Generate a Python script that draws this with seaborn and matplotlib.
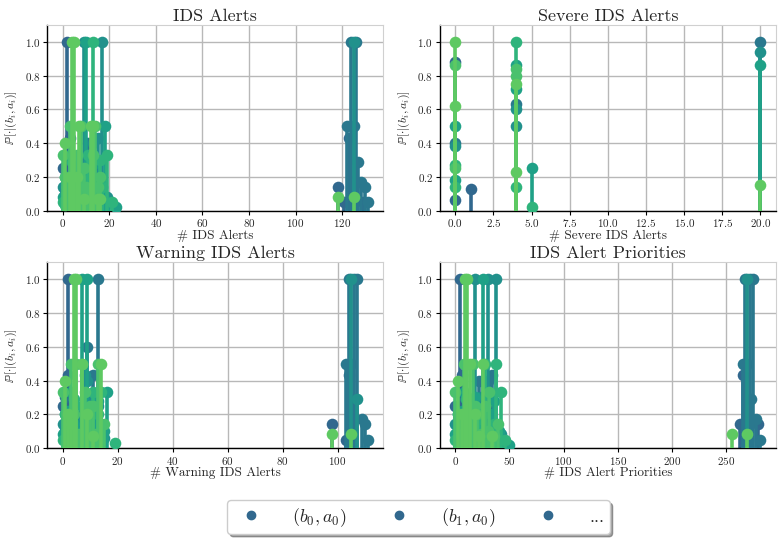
import seaborn as sns
import matplotlib.pyplot as plt
from matplotlib.lines import Line2D
import pandas as pd

# colours of the (b_i, a_i) series, dark -> light
pal = ['#31688e', '#2a788e', '#21918c', '#1fa187', '#2fb47c', '#4ac16d', '#5ec962']

# IDS Alerts
ids_x = [
    [0, 2, 3, 5, 7, 10, 12, 118, 121, 123, 129],
    [1, 4, 8, 11, 14, 122, 124, 125, 126, 127, 128, 130, 131],
    [0, 3, 6, 9, 11, 13, 15, 17, 19, 125, 2, 5, 8, 10, 14, 16],
    [1, 3, 5, 7, 10, 12, 14, 16, 18, 20, 23, 0, 2, 4, 6, 9, 11, 13],
    [0, 2, 4, 6, 8, 11, 13, 15, 17, 19, 21, 1, 5, 9, 12, 16],
    [0, 1, 3, 5, 6, 8, 9, 12, 14, 16, 2, 4, 7, 10, 11, 13, 15],
    [1, 3, 4, 5, 6, 7, 9, 12, 13, 15, 16, 118, 125],
]
ids_p = [
    [0.25, 1.0, 0.43, 0.05, 0.1, 0.12, 0.05, 0.14, 0.05, 0.43, 0.05],
    [0.1, 0.3, 0.2, 0.4, 0.12, 0.5, 1.0, 0.5, 1.0, 0.29, 0.17, 0.14, 0.05],
    [0.14, 0.05, 0.18, 1.0, 0.3, 0.4, 0.43, 1.0, 0.08, 1.0, 0.2, 0.08, 0.3, 0.15, 0.25, 0.12],
    [0.2, 0.33, 0.1, 0.15, 1.0, 0.2, 0.28, 0.1, 0.5, 0.05, 0.02, 0.08, 0.2, 0.14, 0.25, 0.05, 0.1, 0.17],
    [0.05, 0.14, 0.29, 0.05, 0.17, 0.33, 1.0, 0.07, 0.14, 0.33, 0.05, 0.03, 0.22, 0.1, 0.2, 0.3],
    [0.33, 0.2, 0.5, 0.1, 0.33, 0.5, 0.25, 0.07, 0.5, 0.2, 0.14, 0.08, 0.2, 0.14, 0.08, 0.33, 0.14],
    [0.4, 0.2, 1.0, 1.0, 0.2, 0.5, 0.07, 0.5, 0.5, 0.07, 0.07, 0.08, 0.08],
]

# Severe IDS Alerts
sev_x = [
    [0, 0, 1],
    [0, 4, 20],
    [0, 4, 4, 20],
    [0, 0, 4, 4, 5, 20],
    [0, 0, 4, 4, 5],
    [0, 0, 4, 4],
    [0, 0, 4, 4, 20],
]
sev_p = [
    [0.88, 0.06, 0.125],
    [0.4, 0.63, 1.0],
    [0.38, 0.6, 0.5, 0.94],
    [0.5, 0.18, 0.86, 0.72, 0.25, 0.86],
    [0.14, 0.27, 1.0, 0.14, 0.02],
    [0.86, 0.25, 0.8, 0.84],
    [1.0, 0.62, 0.75, 0.23, 0.15],
]

# Warning IDS Alerts
warn_x = [
    [0, 1, 2, 2, 4, 6, 10, 98, 103, 104, 106],
    [1, 3, 4, 7, 9, 11, 13, 103, 104, 105, 106, 107, 109, 110, 111],
    [0, 2, 5, 8, 9, 10, 12, 13, 14, 105, 107, 3, 6, 11, 15],
    [1, 3, 5, 7, 9, 11, 13, 15, 16, 0, 2, 4, 8, 10, 12],
    [0, 2, 4, 6, 8, 11, 12, 14, 19, 1, 3, 7, 9, 13],
    [0, 3, 5, 7, 8, 10, 13, 15, 2, 4, 6, 9, 11, 12],
    [1, 2, 3, 4, 5, 7, 9, 11, 14, 98, 105],
]
warn_p = [
    [0.25, 0.1, 1.0, 0.43, 0.05, 0.12, 0.05, 0.14, 0.05, 0.43, 0.29],
    [0.3, 0.2, 0.14, 0.2, 0.6, 0.43, 1.0, 0.5, 1.0, 0.5, 1.0, 1.0, 0.17, 0.14, 0.05],
    [0.14, 0.05, 0.18, 0.43, 0.4, 0.3, 0.1, 0.25, 0.14, 1.0, 0.29, 0.2, 0.08, 0.14, 0.06],
    [0.2, 0.33, 0.1, 1.0, 1.0, 0.2, 0.28, 0.1, 0.33, 0.08, 0.22, 0.14, 0.25, 0.05, 0.17],
    [0.05, 0.14, 0.29, 0.05, 0.17, 0.33, 0.07, 0.33, 0.03, 0.2, 0.08, 0.25, 0.12, 0.2],
    [0.33, 0.5, 0.5, 0.5, 0.33, 0.25, 0.5, 0.14, 0.14, 0.2, 0.08, 0.2, 0.25, 0.08],
    [0.4, 0.2, 0.14, 1.0, 1.0, 0.5, 0.2, 0.07, 0.5, 0.08, 0.08],
]

# IDS Alert Priorities
prio_x = [
    [0, 4, 6, 10, 14, 20, 24, 263, 266, 268, 280],
    [2, 8, 12, 22, 28, 30, 34, 266, 268, 270, 272, 273, 275, 278, 282],
    [0, 6, 11, 18, 24, 30, 35, 38, 42, 270, 4, 14, 20, 28, 32],
    [2, 8, 14, 20, 26, 32, 36, 40, 44, 50, 0, 6, 12, 18, 24, 30],
    [0, 4, 10, 16, 22, 27, 33, 38, 42, 46, 2, 8, 14, 20, 26, 36],
    [0, 3, 8, 12, 16, 20, 27, 31, 36, 39, 5, 10, 14, 18, 24, 30],
    [2, 6, 9, 11, 14, 18, 22, 26, 34, 256, 270],
]
prio_p = [
    [0.25, 1.0, 0.43, 0.05, 0.1, 0.12, 0.05, 0.14, 0.43, 0.05, 0.14],
    [0.1, 0.3, 0.2, 0.4, 0.12, 0.4, 0.43, 0.5, 1.0, 0.5, 1.0, 0.29, 1.0, 0.17, 0.05],
    [0.14, 0.05, 0.18, 1.0, 0.3, 1.0, 0.14, 1.0, 0.08, 1.0, 0.2, 0.08, 0.25, 0.14, 0.06],
    [0.2, 0.33, 0.1, 0.15, 1.0, 0.2, 0.28, 0.1, 0.05, 0.02, 0.08, 0.22, 0.05, 0.3, 0.17, 0.12],
    [0.05, 0.14, 0.29, 0.05, 0.17, 0.5, 0.07, 0.5, 0.33, 0.05, 0.2, 0.12, 0.25, 0.08, 0.2, 0.14],
    [0.33, 0.2, 0.5, 0.1, 0.5, 0.2, 0.25, 0.33, 0.07, 0.14, 0.08, 0.14, 0.2, 0.25, 0.08, 0.1],
    [0.4, 0.2, 1.0, 1.0, 0.5, 0.2, 0.07, 0.5, 0.07, 0.08, 0.08],
]

panels = [
    ('IDS Alerts', '# IDS Alerts', ids_x, ids_p),
    ('Severe IDS Alerts', '# Severe IDS Alerts', sev_x, sev_p),
    ('Warning IDS Alerts', '# Warning IDS Alerts', warn_x, warn_p),
    ('IDS Alert Priorities', '# IDS Alert Priorities', prio_x, prio_p),
]

sns.set_style('whitegrid')
plt.rcParams['font.family'] = 'serif'
plt.rcParams['font.serif'] = ['cmr10', 'DejaVu Serif']
plt.rcParams['mathtext.fontset'] = 'cm'
plt.rcParams['axes.formatter.use_mathtext'] = True
plt.rcParams['axes.unicode_minus'] = False

fig, axes = plt.subplots(2, 2, figsize=(7.78, 5.43), dpi=100)
fig.subplots_adjust(left=0.061, right=0.997, top=0.954, bottom=0.175,
                    wspace=0.17, hspace=0.28)

for ax, (title, xlabel, xs, ps) in zip(axes.flat, panels):
    for i in range(len(xs)):
        df = pd.DataFrame({'x': xs[i], 'p': ps[i]})
        ax.vlines(df['x'], 0, df['p'], colors=pal[i], linewidth=2.6, zorder=2 + i)
        sns.scatterplot(data=df, x='x', y='p', color=pal[i], s=70,
                        linewidth=0, ax=ax, zorder=2.5 + i)
    ax.set_ylim(0, 1.1)
    ax.set_title(title, fontsize=13, pad=3)
    ax.set_xlabel(xlabel, fontsize=9.5, labelpad=0)
    ax.set_ylabel(r'$\mathbb{P}[\cdot|(b_i,a_i)]$', fontsize=8.5, labelpad=4)
    ax.tick_params(axis='both', labelsize=8, length=3, width=0.8,
                   bottom=True, left=True, pad=2, color='black')
    ax.grid(True, color='#b8b8b8', linewidth=1.0)
    ax.set_axisbelow(True)
    for side in ['left', 'bottom']:
        ax.spines[side].set_color('black')
        ax.spines[side].set_linewidth(1.0)
    for side in ['top', 'right']:
        ax.spines[side].set_color('#d0d0d0')

handles = [Line2D([], [], marker='o', linestyle='', color=pal[0], markersize=6)
           for _ in range(3)]
labels = [r'$(b_0, a_0)$', r'$(b_1, a_0)$', '...']
fig.legend(handles, labels, loc='lower center', bbox_to_anchor=(0.538, 0.0),
           ncol=3, fontsize=13, shadow=True, frameon=True, fancybox=True,
           handletextpad=1.3, columnspacing=1.9, borderpad=0.3, edgecolor='#cccccc')

fig.savefig('out.png', dpi=100)
